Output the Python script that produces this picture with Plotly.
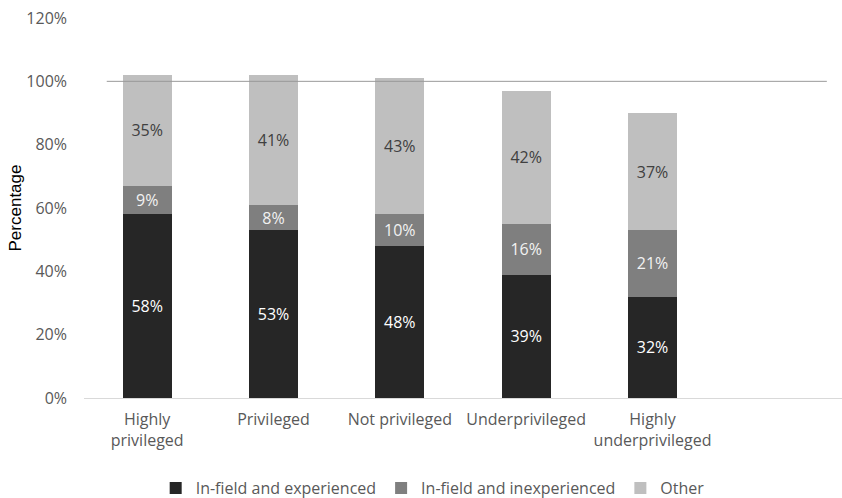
import plotly.graph_objects as go

categories = ["Highly<br>privileged", "Privileged", "Not privileged", "Underprivileged", "Highly<br>underprivileged"]
experienced = [58, 53, 48, 39, 32]
inexperienced = [9, 8, 10, 16, 21]
other = [35, 41, 43, 42, 37]
y_ticks = [0, 20, 40, 60, 80, 100, 120]

positions = list(range(len(categories)))
font_family = "Open Sans, DejaVu Sans, sans-serif"
font_size = 16

series = [
    ("In-field and experienced", experienced, "#262626", "#ffffff"),
    ("In-field and inexperienced", inexperienced, "#7f7f7f", "#f2f2f2"),
    ("Other", other, "#bfbfbf", "#404040"),
]

fig = go.Figure()
for name, values, color, text_color in series:
    fig.add_trace(go.Bar(
        x=positions,
        y=values,
        name=name,
        marker=dict(color=color, line=dict(width=0)),
        width=0.39,
        text=[f"{v}%" for v in values],
        textposition="inside",
        insidetextanchor="middle",
        textangle=0,
        constraintext="none",
        textfont=dict(color=text_color, size=font_size, family=font_family),
        hoverinfo="skip",
    ))

# reference line at 100%
fig.add_shape(type="line", xref="paper", yref="y", x0=0.03, x1=0.98, y0=100, y1=100,
              line=dict(color="#999999", width=1))

fig.update_layout(
    barmode="stack",
    width=842,
    height=498,
    margin=dict(l=84, r=0, t=18, b=100, autoexpand=False),
    paper_bgcolor="white",
    plot_bgcolor="white",
    font=dict(family=font_family, size=font_size, color="#595959"),
    showlegend=True,
    legend=dict(
        orientation="h",
        x=0.46, xanchor="center",
        y=-0.237, yanchor="middle",
        font=dict(size=font_size, color="#595959", family=font_family),
        traceorder="normal",
        itemwidth=30,
    ),
    xaxis=dict(
        tickmode="array",
        tickvals=positions,
        ticktext=categories,
        range=[-0.5, 5.5],
        showline=True,
        linecolor="#d9d9d9",
        linewidth=1,
        ticks="",
        ticklabelstandoff=7,
        showgrid=False,
        zeroline=False,
        automargin=False,
        tickfont=dict(size=font_size, color="#595959"),
    ),
    yaxis=dict(
        range=[0, 120],
        tickmode="array",
        tickvals=y_ticks,
        ticktext=[f"{t}%" for t in y_ticks],
        showgrid=False,
        zeroline=False,
        showline=False,
        ticks="",
        ticklabelstandoff=16,
        automargin=False,
        tickfont=dict(size=font_size, color="#595959"),
        title=dict(text="Percentage", font=dict(family="Liberation Sans, Arial, sans-serif", size=17, color="#000000"), standoff=0),
    ),
)

fig.write_html("out.html")
